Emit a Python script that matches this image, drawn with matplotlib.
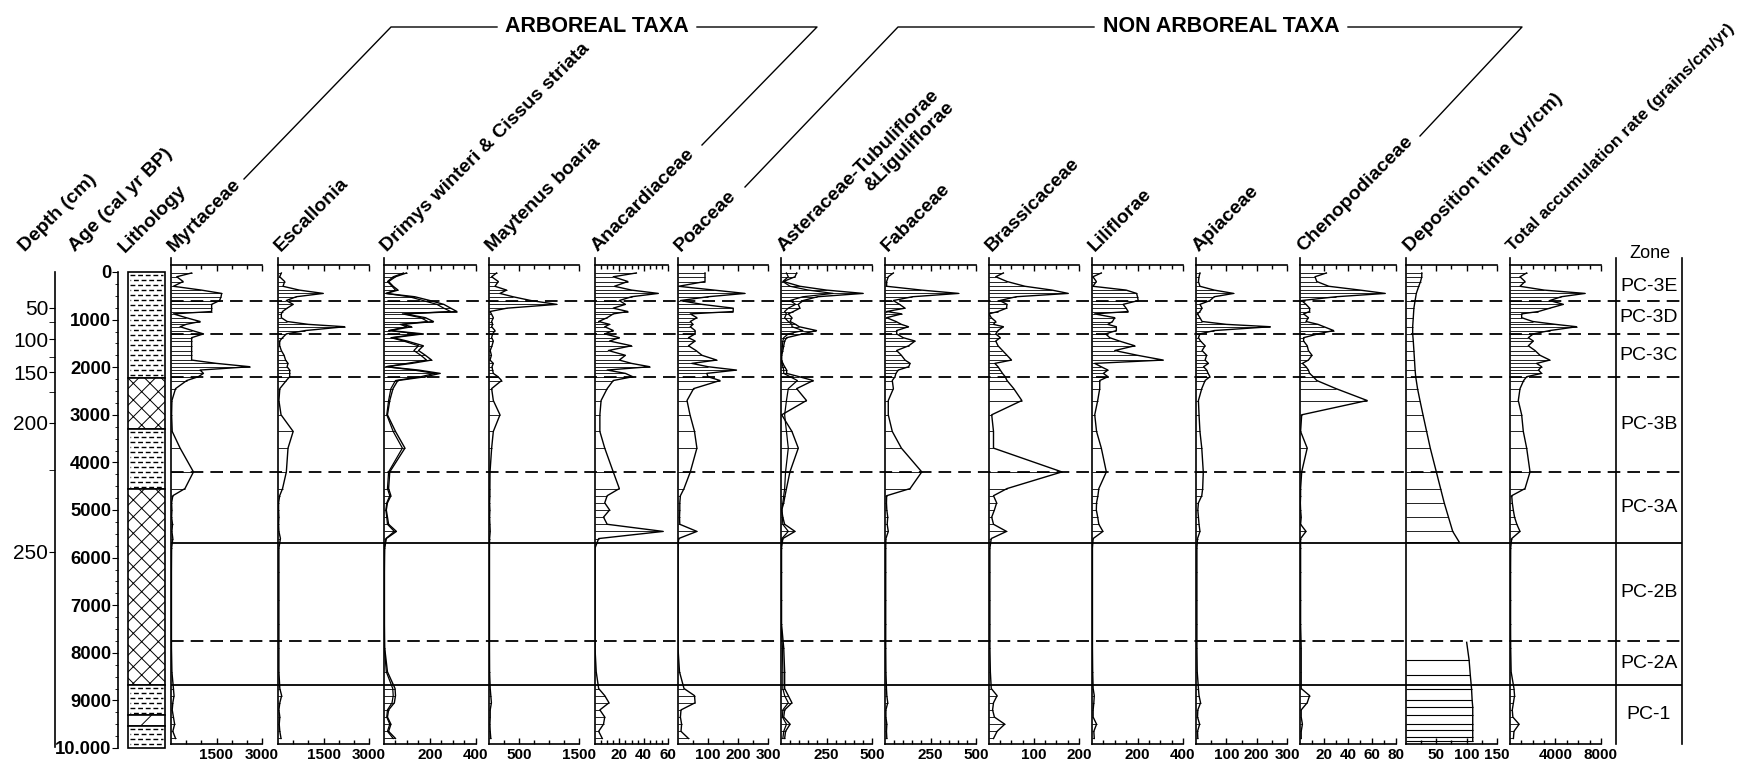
import numpy as np
import matplotlib
matplotlib.use("Agg")
import matplotlib.pyplot as plt
from matplotlib import font_manager
from matplotlib.lines import Line2D
from matplotlib.patches import Rectangle

# narrow face if present, otherwise Arial-metric Liberation Sans a bit smaller
_installed = {f.name for f in font_manager.fontManager.ttflist}
if "Liberation Sans Narrow" in _installed:
    NUM_FONT = ["Liberation Sans Narrow", "DejaVu Sans"]
    SZ_TICK, SZ_AGE, SZ_ZONE = 13, 16, 15
else:
    NUM_FONT = ["Liberation Sans", "DejaVu Sans"]
    SZ_TICK, SZ_AGE, SZ_ZONE = 11, 13.3, 14
SANS = ["Liberation Sans", "DejaVu Sans"]

plt.rcParams["font.family"] = NUM_FONT
plt.rcParams["hatch.linewidth"] = 0.7

# ---- data (ages in cal yr BP) ----
ages = [20, 100, 200, 300, 380, 450, 520, 600, 680, 760,
        830, 880, 960, 1040, 1100, 1150, 1230, 1300, 1380, 1450,
        1550, 1650, 1750, 1850, 1920, 1990, 2060, 2130, 2200, 2280,
        2450, 2700, 3000, 3350, 3700, 4200, 4550, 4700, 4850, 5000,
        5150, 5300, 5450, 5600, 5800, 6300, 6900, 7400, 7900, 8400,
        8750, 8900, 9050, 9200, 9350, 9500, 9650, 9800]

myrtaceae = [680, 190, 400, 80, 1000, 1670, 1650, 1600, 1340, 1340,
             1340, 80, 500, 960, 500, 300, 700, 1070, 680, 680,
             680, 680, 680, 680, 1500, 2600, 960, 1070, 900, 520,
             150, 30, 20, 40, 300, 740, 460, 60, 20, 30,
             20, 50, 30, 60, 20, 15, 15, 15, 15, 30,
             80, 100, 60, 40, 80, 120, 60, 150]
escallonia = [110, 55, 220, 165, 700, 1490, 600, 275, 500, 300,
              150, 110, 110, 300, 1000, 2200, 900, 275, 150, 55,
              55, 110, 200, 250, 330, 300, 385, 385, 385, 275,
              60, 30, 100, 500, 330, 275, 150, 55, 20, 20,
              30, 20, 30, 80, 30, 30, 30, 30, 30, 30,
              60, 120, 60, 30, 60, 40, 60, 100]
drimys_cissus = [98, 50, 20, 40, 61, 10, 134, 200, 260, 290,
                 317, 91, 180, 215, 80, 120, 25, 171, 39, 100,
                 171, 150, 180, 207, 120, 10, 150, 244, 180, 60,
                 39, 25, 15, 50, 91, 25, 20, 30, 15, 10,
                 15, 20, 54, 10, 3, 2, 2, 2, 3, 15,
                 48, 50, 45, 20, 15, 30, 20, 50]
drimys = [85, 40, 15, 35, 50, 8, 110, 170, 230, 260,
          290, 80, 160, 190, 70, 100, 20, 150, 30, 85,
          150, 130, 160, 185, 100, 8, 130, 220, 160, 50,
          30, 20, 12, 40, 80, 20, 15, 25, 12, 8,
          12, 15, 45, 8, 2, 1, 1, 1, 2, 10,
          38, 40, 35, 15, 12, 25, 15, 40]
maytenus = [127, 44, 155, 100, 293, 183, 400, 700, 1130, 300,
            17, 40, 72, 44, 60, 44, 100, 60, 44, 72,
            50, 20, 40, 17, 72, 50, 60, 72, 150, 210,
            44, 72, 183, 72, 44, 17, 15, 15, 10, 15,
            10, 15, 20, 10, 8, 8, 8, 8, 8, 10,
            20, 30, 40, 20, 20, 15, 20, 30]
anacardiaceae = [34, 15, 27, 16, 30, 52, 30, 20, 25, 15,
                 27, 15, 10, 3, 12, 8, 15, 8, 20, 12,
                 30, 11, 25, 20, 30, 45, 10, 25, 31, 15,
                 10, 5, 4, 4, 8, 15, 20, 10, 8, 12,
                 7, 10, 56, 3, 0, 0, 0, 0, 0, 1,
                 3, 8, 11.5, 4, 8, 7, 3, 6]
poaceae = [90, 90, 90, 2, 120, 223, 100, 8, 80, 184,
           184, 41, 63, 41, 50, 41, 57, 57, 35, 57,
           35, 60, 80, 129, 46, 100, 195, 96, 100, 140,
           52, 30, 40, 55, 63, 41, 20, 8, 6, 6,
           5, 6, 63, 2, 0, 0, 0, 0, 0, 5,
           20, 55, 57, 10, 8, 12, 10, 35]
asteraceae_total = [86, 77, 13, 104, 250, 451, 200, 122, 95, 104,
                    68, 40, 60, 50, 80, 100, 195, 120, 31, 20,
                    15, 10, 4, 4, 10, 20, 31, 31, 100, 177,
                    86, 140, 4, 60, 95, 49, 30, 22, 15, 4,
                    10, 20, 77, 10, 3, 3, 3, 3, 15, 20,
                    20, 40, 60, 20, 15, 50, 25, 20]
asteraceae_tub = [30, 40, 10, 50, 150, 286, 120, 50, 80, 40,
                  20, 30, 20, 40, 60, 60, 120, 40, 15, 10,
                  8, 5, 2, 2, 5, 10, 15, 15, 50, 90,
                  40, 30, 20, 30, 40, 25, 20, 15, 10, 5,
                  8, 10, 40, 5, 1, 1, 1, 1, 8, 10,
                  10, 20, 40, 10, 8, 30, 15, 10]
fabaceae = [46, 18, 9, 9, 200, 404, 150, 46, 80, 110,
            9, 92, 9, 60, 90, 129, 64, 64, 100, 165,
            130, 64, 90, 110, 138, 130, 73, 60, 55, 40,
            46, 18, 18, 40, 90, 202, 138, 9, 8, 10,
            15, 12, 18, 5, 4, 4, 4, 4, 4, 5,
            8, 10, 15, 5, 5, 10, 8, 10]
brassicaceae = [32, 15, 40, 80, 140, 176, 60, 24, 40, 39,
                20, 0, 5, 15, 10, 32, 20, 15, 25, 15,
                20, 30, 40, 50, 13, 20, 25, 30, 36, 40,
                55, 73, 6, 10, 10, 162, 40, 10, 17, 12,
                6, 10, 39, 5, 2, 2, 2, 2, 2, 3,
                5, 18, 10, 8, 12, 35, 18, 10]
liliflorae = [41, 4, 19, 4, 150, 196, 200, 203, 137, 150,
              159, 12, 100, 90, 70, 107, 107, 60, 78, 120,
              188, 100, 200, 313, 12, 40, 70, 50, 70, 34,
              34, 25, 12, 20, 41, 63, 30, 26, 20, 19,
              25, 30, 48, 5, 2, 2, 2, 2, 2, 3,
              5, 10, 8, 5, 5, 20, 8, 10]
apiaceae = [13, 10, 8, 13, 60, 124, 60, 46, 13, 20,
            13, 5, 13, 20, 100, 245, 60, 13, 8, 15,
            30, 20, 35, 30, 41, 25, 35, 40, 46, 30,
            19, 8, 10, 13, 19, 24, 22, 19, 8, 6,
            8, 10, 13, 5, 3, 3, 3, 3, 3, 4,
            8, 10, 15, 6, 5, 12, 5, 6]
chenopodiaceae = [22, 12.5, 14, 24, 50, 71, 30, 1.4, 5, 8,
                  8, 3, 7, 5, 15, 20, 28, 15, 3, 3,
                  6, 7, 10, 7, 2, 5, 7, 8, 11, 14,
                  30, 56, 1.4, 0.5, 6, 1.4, 0.5, 0.5, 0.3, 0.5,
                  1, 0.5, 5, 0.5, 0.5, 0.5, 0.5, 0.5, 1, 1,
                  1, 8, 6, 1, 1, 2, 1, 1]
total_accum = [1465, 880, 1320, 880, 3000, 6600, 4500, 3500, 4690, 3500,
               2500, 1025, 1025, 2000, 4000, 5860, 3500, 2050, 1610, 2050,
               1610, 2200, 2640, 3500, 2340, 2780, 2500, 2780, 1465, 1200,
               880, 730, 1025, 1170, 1465, 1760, 1320, 150, 200, 290,
               400, 600, 880, 150, 60, 50, 50, 50, 60, 100,
               350, 400, 300, 200, 250, 800, 350, 300]

dep_top_ages = [20, 100, 200, 300, 450, 600, 760, 960, 1150, 1300, 1450, 1650, 1850,
                2060, 2200, 2450, 2700, 3000, 3350, 3700, 4200, 4550, 4850, 5150, 5450, 5680]
dep_top_vals = [26, 26, 24, 21, 17, 15, 13, 12, 11, 11, 12, 13, 14,
                15, 16, 19, 23, 28, 34, 40, 50, 57, 63, 70, 77, 88]
dep_low_ages = [7780, 8150, 8470, 8750, 8990, 9140, 9310, 9500, 9620, 9770, 9860]
dep_low_vals = [100, 104, 106, 108, 109, 110, 110, 110, 110, 110, 110]

age_ticks = [0, 1000, 2000, 3000, 4000, 5000, 6000, 7000, 8000, 9000, 10000]
age_tick_labels = ["0", "1000", "2000", "3000", "4000", "5000", "6000", "7000", "8000", "9000", "10.000"]
depth_marks = [50, 100, 150, 200, 250]
depth_mark_ages = [756, 1408, 2101, 3172, 5882]
depth_minor_ages = [1050, 1786, 2521, 4160]

litho_tops = [0, 2230, 3300, 4560, 8680, 9300, 9540]
litho_bottoms = [2230, 3300, 4560, 8680, 9300, 9540, 10000]
litho_types = ["silt", "peat", "silt", "peat", "silt", "sand", "silt"]

zone_names = ["PC-3E", "PC-3D", "PC-3C", "PC-3B", "PC-3A", "PC-2B", "PC-2A", "PC-1"]
zone_tops = [0, 600, 1300, 2200, 4200, 5700, 7750, 8680]
zone_bottoms = [600, 1300, 2200, 4200, 5700, 7750, 8680, 9916]
boundary_ages = [600, 1300, 2200, 4200, 5700, 7750, 8680]
boundary_solid = [False, False, False, False, True, False, True]

# ---- layout helpers (pixel coordinates of the 1758x772 canvas) ----
W, H = 1758, 772
Y0_AGE, PX_PER_YR = 272, 0.0476
fig = plt.figure(figsize=(W / 100, H / 100), dpi=100)


def px_axes(x0, x1, y0, y1):
    return fig.add_axes([x0 / W, 1 - y1 / H, (x1 - x0) / W, (y1 - y0) / H])


def age_of(y):
    return (y - Y0_AGE) / PX_PER_YR


def fig_line(xs, ys):
    fig.add_artist(Line2D([x / W for x in xs], [1 - y / H for y in ys],
                          color="k", lw=1.0, transform=fig.transFigure))


HEAD = dict(rotation=45, rotation_mode="anchor", ha="left", va="baseline",
            fontsize=14, fontweight="bold", family=SANS)

PANEL_TOP, PANEL_BOT = 258, 744


def style_panel(ax, xmax, minor, labels):
    ax.set_xlim(0, xmax)
    ax.set_ylim(age_of(PANEL_BOT), age_of(PANEL_TOP))
    ax.patch.set_visible(False)
    ax.spines["right"].set_visible(False)
    ax.spines["top"].set_position(("data", age_of(265)))
    for s in ("left", "top", "bottom"):
        ax.spines[s].set_linewidth(1.2)
    ax.set_yticks([])
    ax.set_xticks(labels)
    ax.set_xticklabels([str(v) for v in labels], fontweight="bold")
    ax.set_xticks(np.arange(minor, xmax + minor / 2, minor), minor=True)
    ax.tick_params(axis="x", which="both", direction="in", top=True, bottom=True,
                   labeltop=False, width=1)
    ax.tick_params(axis="x", which="major", length=4, pad=3, labelsize=SZ_TICK)
    ax.tick_params(axis="x", which="minor", length=3)


def pollen(ax, vals, extra=None):
    ax.hlines(ages, 0, vals, color="k", lw=0.6)
    if extra is not None:
        ax.plot(extra, ages, color="k", lw=0.9)
    ax.plot(vals, ages, color="k", lw=1.0)


panels = [
    ("Myrtaceae", 171, 262, myrtaceae, None, 3000, 500, [1500, 3000]),
    ("Escallonia", 278, 369, escallonia, None, 3000, 500, [1500, 3000]),
    ("Drimys winteri & Cissus striata", 384, 476, drimys_cissus, drimys, 400, 50, [200, 400]),
    ("Maytenus boaria", 489, 579, maytenus, None, 1500, 250, [500, 1500]),
    ("Anacardiaceae", 595, 668, anacardiaceae, None, 60, 5, [20, 40, 60]),
    ("Poaceae", 678, 768, poaceae, None, 300, 50, [100, 200, 300]),
    ("Asteraceae-Tubuliflorae", 781, 872, asteraceae_total, asteraceae_tub, 500, 50, [250, 500]),
    ("Fabaceae", 885, 976, fabaceae, None, 500, 50, [250, 500]),
    ("Brassicaceae", 989, 1079, brassicaceae, None, 200, 25, [100, 200]),
    ("Liliflorae", 1092, 1183, liliflorae, None, 400, 50, [200, 400]),
    ("Apiaceae", 1196, 1287, apiaceae, None, 300, 50, [100, 200, 300]),
    ("Chenopodiaceae", 1300, 1396, chenopodiaceae, None, 80, 10, [20, 40, 60, 80]),
]

for name, x0, x1, vals, extra, xmax, minor, labels in panels:
    ax = px_axes(x0, x1, PANEL_TOP, PANEL_BOT)
    pollen(ax, vals, extra)
    style_panel(ax, xmax, minor, labels)
    fig.text((x0 + 3) / W, 1 - 252 / H, name, **HEAD)

fig.text(955 / W, 1 - 108 / H, "&Liguliflorae", **{**HEAD, "ha": "right"})

# deposition time
ax = px_axes(1406, 1497, PANEL_TOP, PANEL_BOT)
ax.plot(dep_top_vals, dep_top_ages, color="k", lw=1.0)
ax.hlines(dep_top_ages, 0, dep_top_vals, color="k", lw=0.6)
ax.plot(dep_low_vals, dep_low_ages, color="k", lw=1.0)
ax.hlines(dep_low_ages[1:], 0, dep_low_vals[1:], color="k", lw=0.8)
style_panel(ax, 150, 25, [50, 100, 150])
fig.text(1410 / W, 1 - 252 / H, "Deposition time (yr/cm)", **HEAD)

# total accumulation rate
ax = px_axes(1510, 1601, PANEL_TOP, PANEL_BOT)
pollen(ax, total_accum)
style_panel(ax, 8000, 1000, [4000, 8000])
fig.text(1513 / W, 1 - 252 / H, "Total accumulation rate (grains/cm/yr)",
         **{**HEAD, "fontsize": 12.5})

# zone column
axz = px_axes(1616, 1682, PANEL_TOP, PANEL_BOT)
axz.set_ylim(age_of(PANEL_BOT), age_of(PANEL_TOP))
axz.patch.set_visible(False)
for s in ("top", "bottom"):
    axz.spines[s].set_visible(False)
for s in ("left", "right"):
    axz.spines[s].set_linewidth(1.2)
axz.set_xticks([])
axz.set_yticks([])
for nm, t, b in zip(zone_names, zone_tops, zone_bottoms):
    axz.text(0.5, (t + b) / 2, nm, transform=axz.get_yaxis_transform(),
             ha="center", va="center", fontsize=SZ_ZONE)
fig.text(1650 / W, 1 - 253 / H, "Zone", ha="center", va="center", fontsize=SZ_ZONE - 1)

# zone boundaries across all panels
axb = px_axes(171, 1682, PANEL_TOP, PANEL_BOT)
axb.set_ylim(age_of(PANEL_BOT), age_of(PANEL_TOP))
axb.axis("off")
for a, solid in zip(boundary_ages, boundary_solid):
    axb.axhline(a, color="k", lw=1.3, linestyle="-" if solid else (0, (7, 3.9)))

# age axis
axa = px_axes(118, 130, 272, 748)
axa.set_ylim(10000, 0)
axa.patch.set_visible(False)
for s in ("right", "top", "bottom"):
    axa.spines[s].set_visible(False)
axa.spines["left"].set_linewidth(1.2)
axa.set_xticks([])
axa.set_yticks(age_ticks)
axa.set_yticklabels(age_tick_labels, fontweight="bold")
axa.set_yticks(np.arange(250, 10000, 250), minor=True)
axa.tick_params(axis="y", which="major", direction="out", length=4, labelsize=SZ_AGE, pad=1)
axa.tick_params(axis="y", which="minor", direction="out", length=2.5)
fig.text(75 / W, 1 - 252 / H, "Age (cal yr BP)", **HEAD)

# depth axis
axd = px_axes(55, 70, 272, 747)
axd.set_ylim(age_of(747), 0)
axd.patch.set_visible(False)
for s in ("right", "top", "bottom"):
    axd.spines[s].set_visible(False)
axd.spines["left"].set_linewidth(1.2)
axd.set_xticks([])
axd.set_yticks(depth_mark_ages)
axd.set_yticklabels([str(d) for d in depth_marks], family=SANS)
axd.set_yticks(depth_minor_ages, minor=True)
axd.tick_params(axis="y", which="major", direction="out", length=4, labelsize=15, pad=1)
axd.tick_params(axis="y", which="minor", direction="out", length=4)
fig.text(25 / W, 1 - 252 / H, "Depth (cm)", **HEAD)

# lithology column
axl = px_axes(128, 165, 272, 748)
axl.set_xlim(0, 1)
axl.set_ylim(10000, 0)
axl.axis("off")
for top, bot, kind in zip(litho_tops, litho_bottoms, litho_types):
    hatch = {"peat": "xx", "sand": "/"}.get(kind)
    axl.add_patch(Rectangle((0, top), 1, bot - top, facecolor="white", edgecolor="k",
                            lw=1.2, hatch=hatch, clip_on=False))
    if kind == "silt":
        for i, r in enumerate(np.arange(top + 55, bot - 30, 105)):
            axl.hlines(r, 0.05, 0.95, color="k", lw=1.0,
                       linestyles=[(0 if i % 2 == 0 else 3.0, (3.5, 2.0))])
fig.text(125 / W, 1 - 253 / H, "Lithology", **HEAD)

# group brackets
TITLE = dict(ha="center", va="center", fontsize=15.5, fontweight="bold", family=SANS)
fig_line([244, 391, 497], [179, 27, 27])
fig_line([697, 817, 702], [27, 27, 145])
fig.text(597 / W, 1 - 27 / H, "ARBOREAL TAXA", **TITLE)
fig_line([745, 898, 1094], [187, 27, 27])
fig_line([1348, 1522, 1420], [27, 27, 136])
fig.text(1221 / W, 1 - 27 / H, "NON ARBOREAL TAXA", **TITLE)

fig.savefig("out.png", dpi=100, facecolor="white")
